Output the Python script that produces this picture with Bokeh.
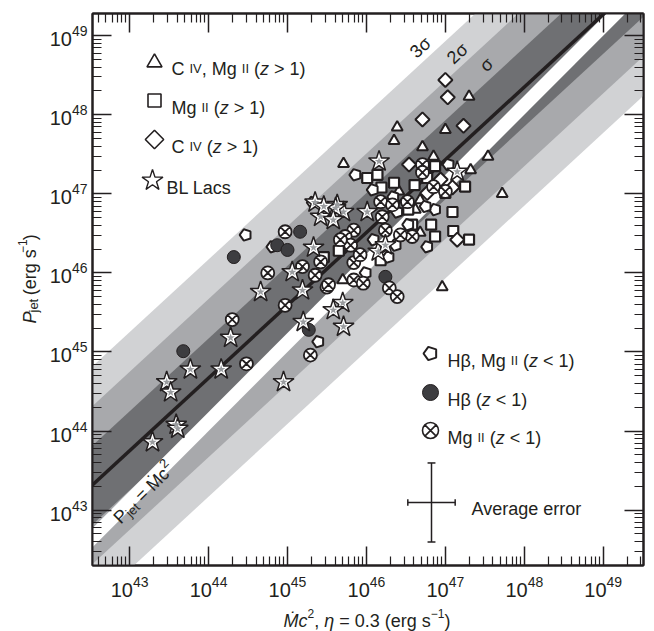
import numpy as np
from bokeh.plotting import figure
from bokeh.layouts import row, column
from bokeh.models import Range1d, LogAxis, FixedTicker, CustomJSTickFormatter, Label
from bokeh.embed import file_html
from bokeh.resources import INLINE

# ---------------- data: log10 values (erg s^-1) ----------------
# C IV, Mg II (z > 1)  -- triangles
tri_lx = [47.30, 46.39, 46.35, 47.00, 46.71, 45.71, 47.54, 47.72, 46.96, 47.32, 46.85, 46.68, 46.62, 45.70, 46.41, 46.68]
tri_ly = [48.23, 47.84, 47.67, 47.81, 47.59, 47.38, 47.47, 47.00, 45.82, 47.30, 47.47, 46.51, 46.80, 45.91, 47.03, 46.92]
# Mg II (z > 1) -- squares
sq_lx = [47.25, 47.09, 47.10, 47.30, 46.87, 46.82, 45.65, 45.46, 46.01, 46.14, 46.19, 46.35, 46.61, 46.77, 46.87, 47.00, 46.18, 46.58, 46.53]
sq_ly = [47.09, 46.77, 46.53, 46.42, 46.46, 46.61, 46.28, 46.20, 47.20, 47.24, 47.08, 47.14, 47.11, 47.20, 47.35, 47.01, 46.16, 46.61, 46.80]
# C IV (z > 1) -- diamonds
dia_lx = [47.00, 47.03, 46.71, 47.23, 47.15, 46.54, 47.09, 46.77, 46.94]
dia_ly = [48.44, 48.22, 47.94, 47.86, 46.42, 47.37, 47.08, 47.01, 47.18]
# BL Lacs -- stars
bl_lx = [46.16, 47.15, 45.35, 45.42, 45.33, 44.66, 45.06, 45.19, 45.63, 45.71, 45.70, 45.71, 45.20, 44.28, 43.77,
         44.16, 43.47, 43.52, 43.59, 43.61, 43.29, 44.95, 46.01, 45.61, 45.46, 45.58, 46.15, 46.24, 45.58]
bl_ly = [47.41, 47.28, 46.89, 46.71, 46.32, 45.76, 46.01, 45.78, 46.86, 46.77, 45.62, 45.32, 45.38, 45.18, 44.78,
         44.78, 44.62, 44.49, 44.08, 44.03, 43.86, 44.62, 46.77, 46.82, 46.84, 46.67, 46.27, 46.35, 45.53]
# H beta, Mg II (z < 1) -- pentagons
pen_lx = [44.47, 45.39, 45.86, 46.08, 45.99, 46.77, 46.53, 46.37, 46.28, 46.09, 46.87, 46.75, 47.04, 46.34, 46.39, 45.32, 44.81]
pen_ly = [46.48, 45.13, 47.24, 47.05, 46.00, 46.33, 46.61, 46.35, 46.20, 46.42, 46.80, 46.84, 47.37, 46.96, 46.77, 46.89, 46.33]
# H beta (z < 1) -- filled circles
hb_lx = [44.32, 44.87, 45.00, 45.16, 43.68, 45.27, 46.24]
hb_ly = [46.20, 46.35, 46.29, 46.52, 45.01, 45.28, 45.95]
# Mg II (z < 1) -- crossed circles
mg_lx = [44.97, 44.75, 44.97, 44.30, 44.48, 45.29, 45.50, 46.29, 46.39, 46.71, 46.71, 46.85, 47.00, 46.18, 46.52, 46.20,
         46.24, 45.84, 45.73, 45.84, 45.84, 45.52, 46.33, 46.58, 46.43, 45.80, 45.92, 45.67, 45.19, 45.42, 45.96, 45.35]
mg_ly = [46.52, 46.00, 45.59, 45.41, 44.85, 44.96, 45.82, 45.81, 45.70, 47.37, 47.27, 47.09, 47.03, 46.90, 46.90, 46.71,
         46.54, 46.54, 46.46, 46.13, 45.91, 45.85, 46.86, 46.46, 46.48, 46.35, 46.23, 46.42, 46.08, 46.14, 45.87, 45.97]

# best fit and dispersion (log units)
FIT_SLOPE = 0.92
FIT_INTERCEPT = 4.19
SIGMA = 0.5
EQ_OFFSET = 0.12     # P_jet = Mdot c^2 stripe
EQ_HALF = 0.12
ERR_X = 0.3
ERR_Y = 0.5

major_exp = [43, 44, 45, 46, 47, 48, 49]
sigma_labels = ["3σ", "2σ", "σ"]

# ---------------- layout ----------------
W, H = 654, 631
YLAB_W = 46          # strip on the left holding the y-axis title
XLAB_H = 31          # strip at the bottom holding the x-axis title
FL, FR, FT, FB = 92, 643, 13, 565
X0, X1 = 42.53, 49.51
Y0, Y1 = 42.30, 49.28
INK = "#231f20"
FONT = "Liberation Sans"


def px2data(px, py):
    lx = X0 + (px - FL) / (FR - FL) * (X1 - X0)
    ly = Y1 - (py - FT) / (FB - FT) * (Y1 - Y0)
    return 10 ** lx, 10 ** ly


MAIN_W, MAIN_H = W - YLAB_W, H - XLAB_H
p = figure(width=MAIN_W, height=MAIN_H, x_axis_type="log", y_axis_type="log",
           x_range=Range1d(10 ** X0, 10 ** X1), y_range=Range1d(10 ** Y0, 10 ** Y1),
           output_backend="svg", toolbar_location=None,
           min_border_left=FL - YLAB_W, min_border_right=W - FR, min_border_top=FT,
           min_border_bottom=MAIN_H - FB)
p.grid.visible = False
p.background_fill_color = "white"
p.border_fill_color = "white"
p.outline_line_color = INK
p.outline_line_width = 2

majors = [10.0 ** e for e in major_exp]
minors = [k * 10.0 ** e for e in range(42, 50) for k in range(2, 10)]


def style_axis(ax, labels=True):
    ax.ticker = FixedTicker(ticks=majors, minor_ticks=minors)
    ax.major_tick_in = 19
    ax.major_tick_out = 0
    ax.minor_tick_in = 9
    ax.minor_tick_out = 0
    ax.axis_line_color = INK
    ax.axis_line_width = 2
    ax.major_tick_line_color = INK
    ax.major_tick_line_width = 1.5
    ax.minor_tick_line_color = INK
    ax.minor_tick_line_width = 1.2
    ax.major_label_text_font = FONT
    ax.major_label_text_font_size = "20px"
    ax.major_label_text_color = INK
    if not labels:
        ax.formatter = CustomJSTickFormatter(code="return '';")
        ax.major_label_standoff = 0


style_axis(p.xaxis[0])
style_axis(p.yaxis[0])
p.xaxis[0].major_label_standoff = 10
p.yaxis[0].major_label_standoff = 5
top_ax = LogAxis()
right_ax = LogAxis()
style_axis(top_ax, labels=False)
style_axis(right_ax, labels=False)
p.add_layout(top_ax, "above")
p.add_layout(right_ax, "right")

# ---------------- bands ----------------
lxs = np.array([40.0, 52.0])
fit = FIT_SLOPE * lxs + FIT_INTERCEPT


def band(lo_y, hi_y, color):
    xs = np.concatenate([lxs, lxs[::-1]])
    ys = np.concatenate([hi_y, lo_y[::-1]])
    p.patch(10 ** xs, 10 ** ys, fill_color=color, line_color=None)


band(fit - 3 * SIGMA, fit + 3 * SIGMA, "#d1d2d4")
band(fit - 2 * SIGMA, fit + 2 * SIGMA, "#a8a9ac")
band(fit - SIGMA, fit + SIGMA, "#6f7073")
eq = lxs + EQ_OFFSET
band(eq - EQ_HALF, eq + EQ_HALF, "#ffffff")
p.line(10 ** lxs, 10 ** fit, line_color=INK, line_width=3.5)

# ---------------- points ----------------
def P(a):
    return 10 ** np.array(a)


def pentagons(xs, ys, r=6):
    try:
        p.ngon(x=xs, y=ys, radius=r, radius_units="screen", n=5, angle=np.pi / 2,
               fill_color="white", line_color=INK, line_width=2)
    except Exception:
        p.scatter(xs, ys, marker="hex", size=2 * r, fill_color="white", line_color=INK, line_width=2)


p.scatter(P(tri_lx), P(tri_ly), marker="triangle", size=11, fill_color="white", line_color=INK, line_width=2)
p.scatter(P(sq_lx), P(sq_ly), marker="square", size=10, fill_color="white", line_color=INK, line_width=2.2)
p.scatter(P(dia_lx), P(dia_ly), marker="square", angle=np.pi / 4, size=10, fill_color="white", line_color=INK,
          line_width=2)
pentagons(P(pen_lx), P(pen_ly))
p.scatter(P(hb_lx), P(hb_ly), marker="circle", size=13, fill_color="#3d3d40", line_color=INK, line_width=1)
p.scatter(P(mg_lx), P(mg_ly), marker="circle_x", size=13, fill_color="white", line_color=INK, line_width=1.8)
p.scatter(P(bl_lx), P(bl_ly), marker="star", size=22, fill_color="white", line_color=INK, line_width=1.5)
p.scatter(P(bl_lx), P(bl_ly), marker="star", size=9, fill_color="#9a9c9f", line_color=None)

# ---------------- rich text helper ----------------
AW = {' ': .278, '(': .333, ')': .333, ',': .278, '.': .278, '=': .584, '>': .584, '<': .584, '−': .584,
      '0': .556, '1': .556, '2': .556, '3': .556, 'A': .667, 'B': .667, 'C': .722, 'H': .722, 'I': .278,
      'L': .556, 'M': .833, 'Ṁ': .833, 'P': .667, 'V': .667, 'a': .556, 'c': .5, 'e': .556, 'g': .556,
      'j': .222, 'o': .556, 'r': .333, 's': .5, 't': .278, 'z': .5, 'v': .5, 'β': .575, 'η': .556}


def tw(s, size):
    return sum(AW.get(c, .556) for c in s) * size


def rich(fig, conv, px, py, pieces, angle_deg=0.0):
    th = np.radians(angle_deg)
    d = 0.0
    for text, size, style, rise in pieces:
        lead = len(text) - len(text.lstrip(" "))
        core = text.strip(" ")
        d0 = d + tw(" " * lead, size)
        if core:
            sx = px + d0 * np.cos(th) - rise * np.sin(th)
            sy = py - d0 * np.sin(th) - rise * np.cos(th)
            x, y = conv(sx, sy)
            fig.add_layout(Label(x=x, y=y, text=core, angle=th, text_font=FONT, text_font_size=f"{size}px",
                                 text_font_style=style, text_baseline="alphabetic", text_align="left",
                                 text_color=INK))
        d += tw(text, size)


N, SM = 18, 13

# ---------------- legends ----------------
def leg_marker(px, py, kind):
    x, y = px2data(px, py)
    if kind == "tri":
        p.scatter([x], [y], marker="triangle", size=15, fill_color="white", line_color=INK, line_width=1.6)
    elif kind == "sq":
        p.scatter([x], [y], marker="square", size=13, fill_color="white", line_color=INK, line_width=1.6)
    elif kind == "dia":
        p.scatter([x], [y], marker="square", angle=np.pi / 4, size=13, fill_color="white", line_color=INK,
                  line_width=1.6)
    elif kind == "star":
        p.scatter([x], [y], marker="star", size=22, fill_color="white", line_color=INK, line_width=1.4)
    elif kind == "pen":
        pentagons([x], [y], r=7)
    elif kind == "hb":
        p.scatter([x], [y], marker="circle", size=16, fill_color="#3d3d40", line_color=INK, line_width=1)
    elif kind == "mg":
        p.scatter([x], [y], marker="circle_x", size=16, fill_color="white", line_color=INK, line_width=1.6)


leg_marker(154, 62, "tri")
rich(p, px2data, 171, 68, [("C ", N, "normal", 0), ("IV", SM, "normal", 0), (", Mg ", N, "normal", 0),
                           ("II", SM, "normal", 0), (" (", N, "normal", 0), ("z", N, "italic", 0),
                           (" > 1)", N, "normal", 0)])
leg_marker(154, 100, "sq")
rich(p, px2data, 171, 107, [("Mg ", N, "normal", 0), ("II", SM, "normal", 0), (" (", N, "normal", 0),
                            ("z", N, "italic", 0), (" > 1)", N, "normal", 0)])
leg_marker(154, 139, "dia")
rich(p, px2data, 171, 146, [("C ", N, "normal", 0), ("IV", SM, "normal", 0), (" (", N, "normal", 0),
                            ("z", N, "italic", 0), (" > 1)", N, "normal", 0)])
leg_marker(152, 180, "star")
rich(p, px2data, 166, 187, [("BL Lacs", N, "normal", 0)])

leg_marker(430, 353, "pen")
rich(p, px2data, 447, 360, [("Hβ, Mg ", N, "normal", 0), ("II", SM, "normal", 0), (" (", N, "normal", 0),
                            ("z", N, "italic", 0), (" < 1)", N, "normal", 0)])
leg_marker(430, 392, "hb")
rich(p, px2data, 447, 399, [("Hβ (", N, "normal", 0), ("z", N, "italic", 0), (" < 1)", N, "normal", 0)])
leg_marker(430, 430, "mg")
rich(p, px2data, 447, 437, [("Mg ", N, "normal", 0), ("II", SM, "normal", 0), (" (", N, "normal", 0),
                            ("z", N, "italic", 0), (" < 1)", N, "normal", 0)])

# average error cross
cx, cy = px2data(431, 502)
lcx, lcy = np.log10(cx), np.log10(cy)
p.segment(x0=[10 ** (lcx - ERR_X), 10 ** lcx], y0=[10 ** lcy, 10 ** (lcy - ERR_Y)],
          x1=[10 ** (lcx + ERR_X), 10 ** lcx], y1=[10 ** lcy, 10 ** (lcy + ERR_Y)], line_color=INK, line_width=1.5)
capx = 10 ** (lcx + np.array([-ERR_X, ERR_X]))
p.segment(x0=capx, x1=capx, y0=[10 ** (lcy - 0.04)] * 2, y1=[10 ** (lcy + 0.04)] * 2, line_color=INK, line_width=1.5)
capy = 10 ** (lcy + np.array([-ERR_Y, ERR_Y]))
p.segment(x0=[10 ** (lcx - 0.05)] * 2, x1=[10 ** (lcx + 0.05)] * 2, y0=capy, y1=capy, line_color=INK, line_width=1.5)
rich(p, px2data, 471, 508, [("Average error", N, "normal", 0)])

# sigma labels
for (spx, spy), lab in zip([(420, 47), (457, 53), (486, 64)], sigma_labels):
    x, y = px2data(spx, spy)
    p.add_layout(Label(x=x, y=y, text=lab, angle=np.radians(43), text_font=FONT, text_font_size="18px",
                       text_align="center", text_baseline="middle", text_color=INK))

# P_jet = Mdot c^2 along the white stripe
rich(p, px2data, 116, 520, [("P", 18, "normal", 0), ("jet", 13, "normal", -4), (" = ", 18, "normal", 0),
                            ("Ṁc", 18, "normal", 0), ("2", 13, "normal", 7)], angle_deg=45)


# ---------------- axis-title strips ----------------
def text_fig(w, h):
    f = figure(width=w, height=h, x_range=Range1d(0, w), y_range=Range1d(0, h), output_backend="svg",
               toolbar_location=None, x_axis_location=None, y_axis_location=None, min_border=0)
    f.outline_line_color = None
    f.grid.visible = False
    f.background_fill_color = "white"
    f.border_fill_color = "white"
    return f


ylab = text_fig(YLAB_W, MAIN_H)
xlab = text_fig(W, XLAB_H)


def conv_y(sx, sy):
    return sx, MAIN_H - sy


def conv_x(sx, sy):
    return sx, XLAB_H - (sy - MAIN_H)


rich(ylab, conv_y, 29, 337, [("P", N, "italic", 0), ("jet", SM, "normal", -4), (" (erg s", N, "normal", 0),
                             ("−1", 12, "normal", 7), (")", N, "normal", 0)], angle_deg=90)
rich(xlab, conv_x, 283, 620, [("Ṁc", N, "italic", 0), ("2", 12, "normal", 7), (",", N, "normal", 0),
                              (" η", N, "italic", 0), (" = 0.3 (erg s", N, "normal", 0), ("−1", 12, "normal", 7),
                              (")", N, "normal", 0)])

layout = column(row(ylab, p, spacing=0), xlab, spacing=0)
open("out.html", "w").write(file_html(layout, INLINE))
